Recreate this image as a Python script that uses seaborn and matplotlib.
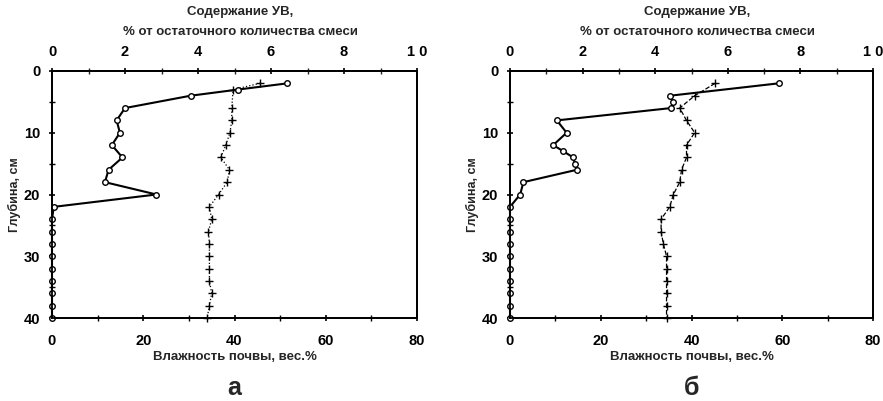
import numpy as np
import pandas as pd
import matplotlib
matplotlib.use("Agg")
import matplotlib.pyplot as plt
from matplotlib.ticker import MultipleLocator
import seaborn as sns

# ---- data ----
depth_a_hc = [2, 3, 4, 6, 8, 10, 12, 14, 16, 18, 20, 22, 24, 26, 28, 30, 32, 34, 36, 38, 40]
hc_a = [6.45, 5.1, 3.8, 2.0, 1.77, 1.86, 1.64, 1.93, 1.55, 1.45, 2.86, 0.05,
        0, 0, 0, 0, 0, 0, 0, 0, 0]
depth_a_m = [2, 3, 6, 8, 10, 12, 14, 16, 18, 20, 22, 24, 26, 28, 30, 32, 34, 36, 38, 40]
moist_a = [45.6, 39.7, 39.4, 39.4, 39.0, 38.1, 37.0, 38.9, 38.4, 36.5, 34.5,
           35.0, 34.3, 34.5, 34.5, 34.5, 34.5, 35.0, 34.5, 34.0]

depth_b_hc = [2, 4, 5, 6, 8, 10, 12, 13, 14, 15, 16, 18, 20, 22, 24, 26, 28, 30, 32, 34, 36, 38, 40]
hc_b = [7.4, 4.41, 4.5, 4.44, 1.29, 1.56, 1.19, 1.47, 1.74, 1.79, 1.84, 0.37, 0.28,
        0, 0, 0, 0, 0, 0, 0, 0, 0, 0]
depth_b_m = [2, 4, 6, 8, 10, 12, 14, 16, 18, 20, 22, 24, 26, 28, 30, 32, 34, 36, 38, 40]
moist_b = [45.2, 40.7, 37.4, 38.9, 40.7, 38.9, 38.9, 37.8, 37.4, 36.0, 35.2,
           33.3, 33.3, 33.8, 34.5, 34.5, 34.5, 34.5, 34.5, 34.5]

top_ticks = [0, 2, 4, 6, 8, 10]
top_labels = ["0", "2", "4", "6", "8", "1 0"]
bottom_ticks = [0, 20, 40, 60, 80]
depth_ticks = [0, 10, 20, 30, 40]

title1 = "Содержание УВ,"
title2 = "% от остаточного количества смеси"
xlab = "Влажность почвы, вес.%"
ylab = "Глубина, см"
panel_labels = ["а", "б"]

sns.set_theme(style="white")
plt.rcParams["font.family"] = ["Liberation Sans", "DejaVu Sans"]
plt.rcParams["font.weight"] = "bold"

W, H = 883, 401
fig = plt.figure(figsize=(W / 100, H / 100), dpi=100)

panels = [
    dict(left=52, right=417, hc_d=depth_a_hc, hc=hc_a, m_d=depth_a_m, m=moist_a, ls=":", lab=panel_labels[0]),
    dict(left=510, right=873, hc_d=depth_b_hc, hc=hc_b, m_d=depth_b_m, m=moist_b, ls="--", lab=panel_labels[1]),
]
top_px, bot_px = 71, 318

for p in panels:
    ax = fig.add_axes([p["left"] / W, 1 - bot_px / H, (p["right"] - p["left"]) / W, (bot_px - top_px) / H])
    axt = ax.twiny()

    dfm = pd.DataFrame({"depth": p["m_d"], "moist": p["m"]})
    sns.lineplot(data=dfm, x="moist", y="depth", ax=ax, orient="y", estimator=None,
                 color="black", linestyle=p["ls"], linewidth=0.9, marker="+",
                 markersize=6, markeredgewidth=1.0, markeredgecolor="black", clip_on=False)

    dfh = pd.DataFrame({"depth": p["hc_d"], "hc": p["hc"]})
    sns.lineplot(data=dfh, x="hc", y="depth", ax=axt, orient="y", estimator=None,
                 color="black", linestyle="-", linewidth=1.5, marker="o",
                 markersize=4, markerfacecolor="white", markeredgecolor="black",
                 markeredgewidth=1.0, clip_on=False)

    ax.set_xlim(0, 80)
    axt.set_xlim(0, 10)
    ax.set_ylim(40, 0)
    axt.set_ylim(40, 0)

    ax.set_xticks(bottom_ticks)
    ax.xaxis.set_minor_locator(MultipleLocator(10))
    ax.set_yticks(depth_ticks)
    ax.yaxis.set_minor_locator(MultipleLocator(5))
    axt.set_xticks(top_ticks)
    axt.set_xticklabels(top_labels)
    axt.xaxis.set_minor_locator(MultipleLocator(1))

    ax.set_xlabel(xlab, fontsize=9.5, fontweight="bold", labelpad=2)
    ax.set_ylabel(ylab, fontsize=9, fontweight="bold", labelpad=2)
    axt.set_xlabel("")
    axt.set_ylabel("")

    for a in (ax, axt):
        for s in a.spines.values():
            s.set_color("black")
            s.set_linewidth(1.3)
    ax.tick_params(axis="x", which="major", direction="inout", length=5, width=1.2,
                   labelsize=10.5, colors="black", pad=9)
    ax.tick_params(axis="y", which="major", direction="inout", length=5, width=1.2,
                   labelsize=10.5, colors="black", pad=6)
    ax.tick_params(axis="both", which="minor", direction="inout", length=4, width=1.0, colors="black")
    ax.tick_params(axis="y", which="both", left=True, right=False)
    ax.tick_params(axis="x", which="both", bottom=True, top=False)
    axt.tick_params(axis="x", which="major", direction="inout", length=5, width=1.2,
                    labelsize=10.5, colors="black", pad=6, top=True, bottom=False)
    axt.tick_params(axis="x", which="minor", direction="inout", length=4, width=1.0,
                    top=True, bottom=False)
    for lbl in ax.get_xticklabels() + ax.get_yticklabels() + axt.get_xticklabels():
        lbl.set_fontweight("bold")

    cx = (p["left"] + p["right"]) / 2 / W + 6 / W
    fig.text(cx, 1 - 12 / H, title1, ha="center", va="center", fontsize=9.5, fontweight="bold")
    fig.text(cx, 1 - 32 / H, title2, ha="center", va="center", fontsize=9.5, fontweight="bold")
    fig.text(cx - 6 / W, 1 - 388 / H, p["lab"], ha="center", va="center", fontsize=18, fontweight="bold")

fig.savefig("out.png", dpi=100, facecolor="white")
